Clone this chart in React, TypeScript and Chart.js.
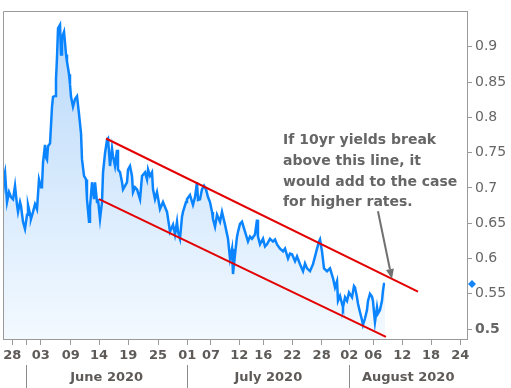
import React, { useEffect, useRef } from 'react';
import { Chart, registerables } from 'chart.js';

Chart.register(...registerables);

// x values: days since 28 May 2020 (intraday readings)
const dayOffsets = [-1.83,-1.63,-1.43,-1.24,-1.04,-0.65,-0.26,0.14,0.53,0.92,1.12,1.51,1.71,2.10,2.49,2.89,3.08,3.48,3.67,4.07,4.46,4.85,5.24,5.64,5.83,6.03,6.42,6.62,6.82,7.01,7.41,7.80,8.00,8.39,8.58,8.78,8.98,9.37,9.57,9.76,9.96,10.16,10.55,10.74,11.14,11.33,11.53,11.92,12.32,12.71,13.10,13.50,13.69,14.09,14.48,14.67,15.07,15.26,15.66,16.05,16.25,16.64,16.83,17.23,17.62,17.82,18.21,18.60,18.80,19.19,19.58,19.78,20.17,20.57,20.76,21.16,21.55,21.75,22.14,22.53,22.73,23.12,23.51,23.71,24.10,24.50,25.09,25.48,26.07,26.46,26.66,27.05,27.44,27.64,28.03,28.42,29.01,29.60,29.99,30.39,30.98,31.57,31.96,32.35,32.55,32.94,33.33,33.53,34.12,34.31,34.90,35.49,35.89,36.28,36.48,36.87,37.26,37.66,38.05,38.44,38.83,39.23,39.42,39.82,40.21,40.80,41.19,41.78,42.37,42.76,43.16,43.35,43.75,44.14,44.34,44.73,45.12,45.71,46.30,46.69,47.08,47.67,48.07,48.26,48.66,49.25,49.64,50.03,50.62,51.21,51.61,52.00,52.59,53.18,53.57,54.16,54.55,54.95,55.54,55.93,56.52,57.11,57.50,57.90,58.48,59.07,59.47,59.86,60.25,60.45,60.84,61.23,61.82,62.41,63.00,63.39,63.79,63.98,64.38,64.77,64.96,65.36,65.75,66.14,66.73,67.12,67.32,67.71,67.91,68.30,68.69,68.89,69.28,69.67,69.87,70.26,70.65,70.85,71.05,71.24,71.64,71.83,72.22,72.62,72.81,73.01,73.21];

// 10yr yield (%)
const yields = [0.691,0.715,0.722,0.701,0.680,0.694,0.687,0.684,0.703,0.676,0.666,0.680,0.674,0.652,0.642,0.662,0.676,0.663,0.656,0.666,0.677,0.670,0.712,0.701,0.703,0.736,0.761,0.743,0.740,0.759,0.763,0.815,0.829,0.830,0.854,0.885,0.926,0.931,0.889,0.910,0.917,0.921,0.889,0.879,0.861,0.847,0.829,0.815,0.826,0.830,0.805,0.777,0.740,0.717,0.712,0.684,0.652,0.673,0.708,0.684,0.708,0.680,0.684,0.656,0.680,0.722,0.749,0.768,0.770,0.731,0.756,0.745,0.731,0.754,0.726,0.722,0.708,0.698,0.703,0.708,0.726,0.731,0.717,0.694,0.701,0.698,0.684,0.717,0.722,0.712,0.726,0.717,0.722,0.698,0.684,0.694,0.670,0.680,0.673,0.666,0.638,0.648,0.634,0.652,0.638,0.628,0.659,0.666,0.680,0.684,0.690,0.676,0.687,0.708,0.683,0.684,0.698,0.703,0.698,0.687,0.680,0.666,0.656,0.645,0.662,0.652,0.666,0.648,0.628,0.600,0.614,0.578,0.606,0.631,0.638,0.649,0.652,0.638,0.624,0.631,0.628,0.634,0.655,0.631,0.620,0.628,0.617,0.620,0.628,0.624,0.627,0.620,0.614,0.610,0.614,0.600,0.607,0.606,0.596,0.603,0.592,0.582,0.593,0.586,0.582,0.592,0.603,0.614,0.624,0.627,0.610,0.586,0.582,0.586,0.572,0.559,0.568,0.540,0.547,0.536,0.531,0.545,0.540,0.552,0.545,0.561,0.559,0.545,0.536,0.524,0.513,0.506,0.515,0.527,0.540,0.550,0.546,0.540,0.524,0.510,0.531,0.522,0.527,0.540,0.554,0.564,0.564];

// trend channel (start / end)
const upperChannelX = [18.41, 79.69];
const upperChannelY = [0.770, 0.553];
const lowerChannelX = [17.03, 73.40];
const lowerChannelY = [0.684, 0.489];

// axis ticks
const xTickDays = [0, 2.69, 5.58, 11.47, 17.03, 22.79, 28.62, 34.38, 39.03, 44.59, 49.3, 55.0, 60.77, 66.2, 70.91, 76.6, 82.25, 88];
const xTickLabels = ['28', '', '03', '09', '14', '19', '25', '01', '07', '12', '16', '22', '28', '02', '06', '12', '18', '24'];
const monthStarts = [2.69, 34.38, 66.2];
const monthLabels = ['June 2020', 'July 2020', 'August 2020'];
const yTicks = [0.5, 0.55, 0.6, 0.65, 0.7, 0.75, 0.8, 0.85, 0.9];
const xMin = -1.83;
const xMax = 89.32;
const yMin = 0.486;
const yMax = 0.95;

// annotation
const noteLines = ['If 10yr yields break', 'above this line, it', 'would add to the case', 'for higher rates.'];
const noteAnchor = { x: 53.17, y: 0.762 };
const arrowFrom = { x: 71.83, y: 0.667 };
const arrowTo = { x: 74.58, y: 0.571 };

const FRAME = '#9a9a9a';
const LABEL = '#5e5a58';
const FONT = "'DejaVu Sans', Verdana, sans-serif";

const overlayPlugin = {
  id: 'overlay',
  afterDraw(chart: any) {
    const { ctx, chartArea, scales } = chart;
    const xs = scales.x;
    const ys = scales.y;
    const H = chart.height;
    ctx.save();
    // frame top / left
    ctx.strokeStyle = FRAME;
    ctx.lineWidth = 1;
    ctx.beginPath();
    ctx.moveTo(Math.round(chartArea.left) + 0.5, chartArea.bottom);
    ctx.lineTo(Math.round(chartArea.left) + 0.5, Math.round(chartArea.top) + 0.5);
    ctx.lineTo(chartArea.right, Math.round(chartArea.top) + 0.5);
    ctx.stroke();

    // month separators + labels
    const seps = monthStarts.map((m) => xs.getPixelForValue(m));
    ctx.strokeStyle = '#8a8a8a';
    seps.forEach((px) => {
      ctx.beginPath();
      ctx.moveTo(Math.round(px) + 0.5, chartArea.bottom + 26);
      ctx.lineTo(Math.round(px) + 0.5, H);
      ctx.stroke();
    });
    ctx.fillStyle = LABEL;
    ctx.font = `bold 13px ${FONT}`;
    ctx.textAlign = 'center';
    ctx.textBaseline = 'middle';
    monthLabels.forEach((lab, i) => {
      const a = seps[i];
      const b = i + 1 < seps.length ? seps[i + 1] : chartArea.right;
      ctx.fillText(lab, (a + b) / 2, chartArea.bottom + 39);
    });

    // annotation text
    ctx.fillStyle = '#666666';
    ctx.font = `bold 14px ${FONT}`;
    ctx.textAlign = 'left';
    ctx.textBaseline = 'alphabetic';
    const tx = xs.getPixelForValue(noteAnchor.x);
    const ty = ys.getPixelForValue(noteAnchor.y);
    noteLines.forEach((l, i) => ctx.fillText(l, tx, ty + i * 20.7));

    // arrow
    const x1 = xs.getPixelForValue(arrowFrom.x);
    const y1 = ys.getPixelForValue(arrowFrom.y);
    const x2 = xs.getPixelForValue(arrowTo.x);
    const y2 = ys.getPixelForValue(arrowTo.y);
    const ang = Math.atan2(y2 - y1, x2 - x1);
    const headLen = 10;
    const headW = 4;
    const bx = x2 - headLen * Math.cos(ang);
    const by = y2 - headLen * Math.sin(ang);
    ctx.strokeStyle = '#707070';
    ctx.fillStyle = '#707070';
    ctx.lineWidth = 2;
    ctx.beginPath();
    ctx.moveTo(x1, y1);
    ctx.lineTo(bx, by);
    ctx.stroke();
    ctx.beginPath();
    ctx.moveTo(x2, y2);
    ctx.lineTo(bx + headW * Math.sin(ang), by - headW * Math.cos(ang));
    ctx.lineTo(bx - headW * Math.sin(ang), by + headW * Math.cos(ang));
    ctx.closePath();
    ctx.fill();

    // last value marker
    const last = yields[Math.min(yields.length, dayOffsets.length) - 1];
    const dy = ys.getPixelForValue(last);
    const dx = chartArea.right + 5;
    ctx.fillStyle = '#1584f5';
    ctx.beginPath();
    ctx.moveTo(dx, dy - 4);
    ctx.lineTo(dx + 4, dy);
    ctx.lineTo(dx, dy + 4);
    ctx.lineTo(dx - 4, dy);
    ctx.closePath();
    ctx.fill();
    ctx.restore();
  },
};

export default function App() {
  const ref = useRef<HTMLCanvasElement>(null);
  useEffect(() => {
    document.body.style.margin = '0';
    const n = Math.min(dayOffsets.length, yields.length);
    const series = [] as { x: number; y: number }[];
    for (let i = 0; i < n; i++) series.push({ x: dayOffsets[i], y: yields[i] });
    const chart = new Chart(ref.current as HTMLCanvasElement, {
      type: 'line',
      data: {
        datasets: [
          {
            data: series,
            borderColor: '#0a84ff',
            borderWidth: 2.5,
            pointRadius: 0,
            tension: 0,
            fill: 'start',
            order: 2,
            backgroundColor: (c: any) => {
              const area = c.chart.chartArea;
              if (!area) return '#dcecfd';
              const g = c.chart.ctx.createLinearGradient(0, area.top, 0, area.bottom);
              g.addColorStop(0, '#b7d8fa');
              g.addColorStop(1, '#f3f9ff');
              return g;
            },
          },
          {
            data: upperChannelX.map((x, i) => ({ x, y: upperChannelY[i] })),
            borderColor: '#e30000',
            borderWidth: 2,
            pointRadius: 0,
            fill: false,
            order: 1,
          },
          {
            data: lowerChannelX.map((x, i) => ({ x, y: lowerChannelY[i] })),
            borderColor: '#e30000',
            borderWidth: 2,
            pointRadius: 0,
            fill: false,
            order: 1,
          },
        ],
      },
      options: {
        animation: false,
        responsive: false,
        devicePixelRatio: 1,
        layout: { padding: { left: 3, top: 6, right: 0, bottom: 0 } },
        plugins: { legend: { display: false }, tooltip: { enabled: false } },
        scales: {
          x: {
            type: 'linear',
            position: 'bottom',
            min: xMin,
            max: xMax,
            afterBuildTicks: (scale: any) => {
              scale.ticks = xTickDays.map((v) => ({ value: v }));
            },
            afterFit: (scale: any) => {
              scale.height = 49;
            },
            ticks: {
              autoSkip: false,
              maxRotation: 0,
              padding: 3,
              color: LABEL,
              font: { family: FONT, size: 13, weight: 'bold' },
              callback: (_v: any, i: number) => xTickLabels[i],
            },
            grid: { drawOnChartArea: false, drawTicks: true, tickLength: 6, color: FRAME },
            border: { display: true, color: FRAME },
          },
          y: {
            type: 'linear',
            position: 'right',
            min: yMin,
            max: yMax,
            afterBuildTicks: (scale: any) => {
              scale.ticks = yTicks.map((v) => ({ value: v }));
            },
            afterFit: (scale: any) => {
              scale.width = 44;
            },
            ticks: {
              padding: 3,
              color: '#666666',
              font: (c: any) => ({
                family: FONT,
                size: 14,
                weight: c.tick && c.tick.value === 0.5 ? 'bold' : 'normal',
              }),
              callback: (v: any) => String(Number(v)),
            },
            grid: { drawOnChartArea: false, drawTicks: true, tickLength: 5, color: FRAME },
            border: { display: true, color: FRAME },
          },
        },
      } as any,
      plugins: [overlayPlugin],
    });
    return () => chart.destroy();
  }, []);
  return (
    <div style={{ position: 'absolute', left: 0, top: 0, width: 511, height: 388 }}>
      <canvas ref={ref} width={511} height={388} style={{ width: 511, height: 388 }} />
    </div>
  );
}
